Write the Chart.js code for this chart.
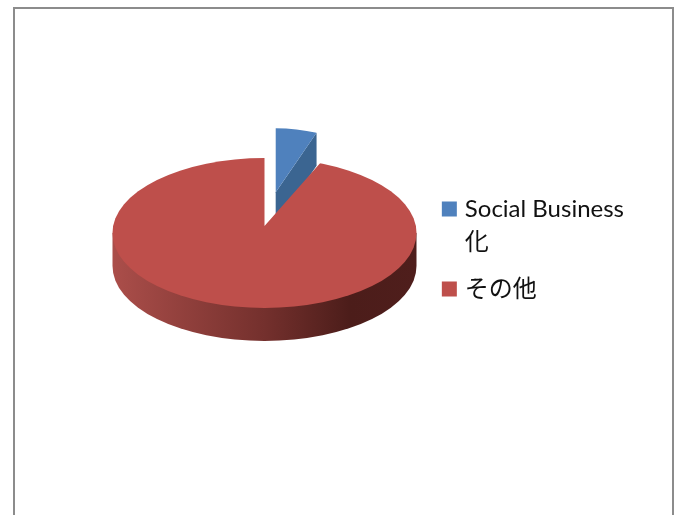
<!DOCTYPE html>
<html lang="ja">
  <head>
    <meta charset="UTF-8" />
    <title>Social Business 化</title>
    <script src="https://cdn.jsdelivr.net/npm/chart.js"></script>
    <style>
      html, body { margin: 0; background: #fff; overflow: hidden; }
      #frame {
        position: absolute; left: 13px; top: 7px; width: 657px; height: 600px;
        border: 2px solid #8c8c8c;
      }
      canvas { position: absolute; left: 0; top: 0; }
    </style>
  </head>
  <body>
    <div id="frame"></div>
    <canvas id="pie" width="680" height="515"></canvas>
    <script>
      // Data
      const categories = [["Social Business", "化"], "その他"];
      const shares = [6, 94];
      const faceColors = ["#4F81BD", "#BE4F4B"];

      // Tilted pie: where it sits and how much each slice is flattened
      const pieX = 264.5;
      const pieY = 226; // the point of the slices
      const rimY = 233; // middle of the outline, lower because of the perspective
      const rimScale = 75 / 152;
      const pieRadius = 152;
      const wallDepth = 33;
      const blueOffset = 82;
      const blueScaleX = 0.73;
      const blueScaleY = 0.42;
      const redTopScale = 68 / 152;
      const redBottomScale = 82 / 152;
      const overscan = 1.15; // red arc is drawn oversize and cut by the rim

      function place(ctx, arc, sx, sy) {
        ctx.translate(pieX, pieY);
        ctx.scale(sx, sy);
        ctx.translate(-arc.x, -arc.y);
      }

      function drawBlue(ctx, arc) {
        // pulled out by hand, the offset option would also grow the arc
        const mid = (arc.startAngle + arc.endAngle) / 2;
        const ex = arc.x + Math.cos(arc.endAngle) * arc.outerRadius;
        const ey = arc.y + Math.sin(arc.endAngle) * arc.outerRadius;
        const drop = wallDepth / blueScaleY;

        ctx.save();
        place(ctx, arc, blueScaleX, blueScaleY);
        ctx.translate(Math.cos(mid) * blueOffset, Math.sin(mid) * blueOffset);
        // cut face seen through the gap
        ctx.fillStyle = "#3B6591";
        ctx.beginPath();
        ctx.moveTo(arc.x, arc.y);
        ctx.lineTo(ex, ey);
        ctx.lineTo(ex, ey + drop);
        ctx.lineTo(arc.x, arc.y + drop);
        ctx.closePath();
        ctx.fill();
        arc.draw(ctx);
        ctx.restore();
      }

      function drawWall(ctx, arc) {
        const r = arc.outerRadius;
        const ry = r * rimScale;
        const grad = ctx.createLinearGradient(pieX - r, 0, pieX + r, 0);
        grad.addColorStop(0, "#AB4E4A");
        grad.addColorStop(0.5, "#74302D");
        grad.addColorStop(0.78, "#4C1D1A");
        grad.addColorStop(1, "#4F1E1C");
        ctx.fillStyle = grad;
        ctx.beginPath();
        ctx.moveTo(pieX - r, rimY);
        ctx.ellipse(pieX, rimY + wallDepth, r, ry, 0, Math.PI, 0, true);
        ctx.lineTo(pieX + r, rimY);
        ctx.closePath();
        ctx.fill();
      }

      function drawRed(ctx, arc) {
        const r = arc.outerRadius;
        ctx.save();
        ctx.beginPath();
        ctx.ellipse(pieX, rimY, r, r * rimScale, 0, 0, Math.PI * 2);
        ctx.clip();

        // the far half is foreshortened more than the near half
        ctx.save();
        ctx.beginPath();
        ctx.rect(0, 0, 680, pieY + 0.5);
        ctx.clip();
        place(ctx, arc, overscan, overscan * redTopScale);
        arc.draw(ctx);
        ctx.restore();

        ctx.save();
        ctx.beginPath();
        ctx.rect(0, pieY, 680, 515);
        ctx.clip();
        place(ctx, arc, overscan, overscan * redBottomScale);
        arc.draw(ctx);
        ctx.restore();

        ctx.restore();
      }

      const tiltedPie = {
        id: "tiltedPie",
        beforeDatasetDraw(chart, args) {
          const [blue, red] = args.meta.data;
          const ctx = chart.ctx;
          drawBlue(ctx, blue);
          drawWall(ctx, red);
          drawRed(ctx, red);
          return false;
        },
      };

      new Chart(document.getElementById("pie"), {
        type: "pie",
        plugins: [tiltedPie],
        data: {
          labels: categories,
          datasets: [
            {
              data: shares,
              backgroundColor: faceColors,
              borderWidth: 0,
              radius: pieRadius,
            },
          ],
        },
        options: {
          responsive: false,
          animation: false,
          events: [],
          layout: { padding: { top: 183, right: 46 } },
          plugins: {
            tooltip: { enabled: false },
            legend: {
              position: "right",
              align: "start",
              labels: {
                // small box plus a thick outline, keeps the text close to it
                boxWidth: 7,
                boxHeight: 7,
                padding: 14,
                color: "#111",
                font: {
                  family: "Lato, 'Noto Sans CJK JP'",
                  size: 24,
                  lineHeight: 1.375,
                },
                generateLabels(chart) {
                  return Chart.overrides.pie.plugins.legend.labels
                    .generateLabels(chart)
                    .map((item) => ({
                      ...item,
                      lineWidth: 8,
                      strokeStyle: item.fillStyle,
                    }));
                },
              },
            },
          },
        },
      });
    </script>
  </body>
</html>
